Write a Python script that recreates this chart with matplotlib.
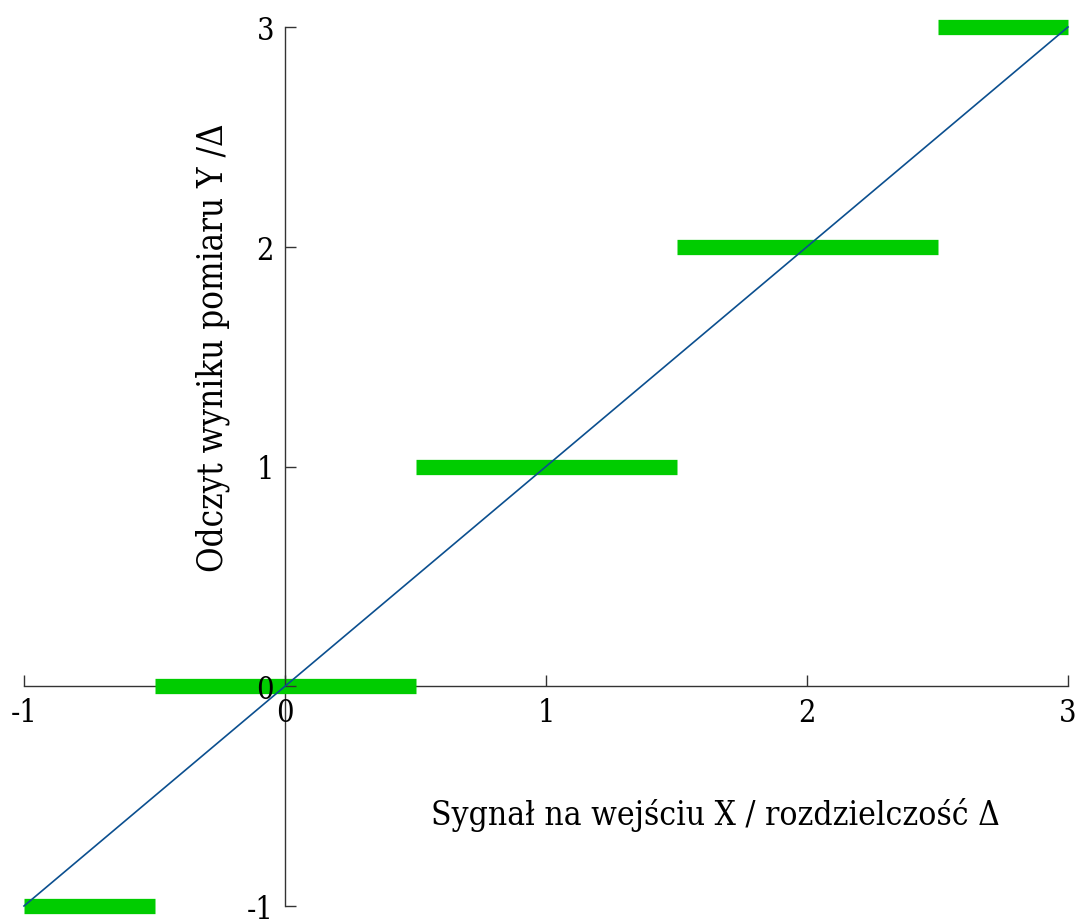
import matplotlib
matplotlib.use("Agg")
import matplotlib.pyplot as plt
import numpy as np

# Quantizer staircase: each reading level and the input interval it covers
levels = [-1, 0, 1, 2, 3]
interval_lo = [-1.0, -0.5, 0.5, 1.5, 2.5]
interval_hi = [-0.5, 0.5, 1.5, 2.5, 3.0]

# Ideal transfer line Y = X
ideal_x = [-1, 3]
ideal_y = [-1, 3]

xticks = [-1, 0, 1, 2, 3]
yticks = [-1, 0, 1, 2, 3]

plt.rcParams['font.family'] = ['DejaVu Serif']
plt.rcParams['font.stretch'] = 'condensed'

fig = plt.figure(figsize=(10.81, 9.2), dpi=100)
ax = fig.add_axes([24 / 1081, 13 / 920, 1044 / 1081, 879 / 920])
ax.set_axisbelow(False)

for lo, hi, lv in zip(interval_lo, interval_hi, levels):
    ax.plot([lo, hi], [lv, lv], color='#00cc00', lw=11, solid_capstyle='butt',
            zorder=2, clip_on=False)

ax.plot(ideal_x, ideal_y, color='#0b4f8f', lw=1.2, zorder=3, clip_on=False)

ax.set_xlim(-1, 3)
ax.set_ylim(-1, 3)
ax.spines['left'].set_position(('data', 0))
ax.spines['bottom'].set_position(('data', 0))
ax.spines['top'].set_visible(False)
ax.spines['right'].set_visible(False)
for s in ('left', 'bottom'):
    ax.spines[s].set_color('#333333')
    ax.spines[s].set_linewidth(1.0)
    ax.spines[s].set_zorder(1)

ax.set_xticks(xticks)
ax.set_yticks(yticks)
ax.set_xticklabels([str(t) for t in xticks])
ax.set_yticklabels([str(t) for t in yticks])
ax.tick_params(direction='in', length=8, width=1.0, color='#333333', labelsize=22, pad=8)

ax.text(1.65, -0.58, 'Sygnał na wejściu X / rozdzielczość Δ', fontsize=24,
        ha='center', va='center')
ax.text(-0.276, 1.544, 'Odczyt wyniku pomiaru Y /Δ', fontsize=25,
        ha='center', va='center', rotation=90)

for lab in ax.get_xticklabels() + ax.get_yticklabels():
    lab.set_clip_on(False)

fig.savefig('out.png', dpi=100)
